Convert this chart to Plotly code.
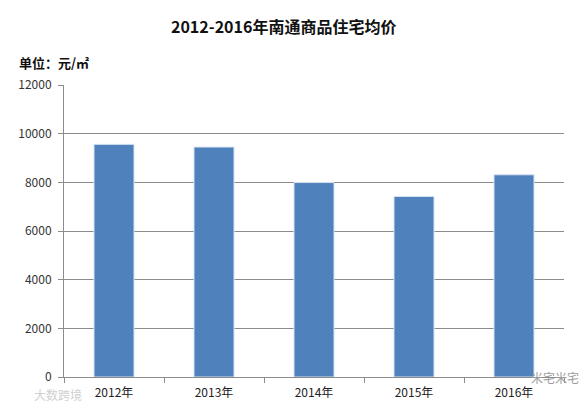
import plotly.graph_objects as go

years = ["2012年", "2013年", "2014年", "2015年", "2016年"]
prices = [9560, 9450, 7990, 7420, 8310]
y_ticks = [0, 2000, 4000, 6000, 8000, 10000, 12000]
y_tick_labels = ["0", "2000", "4000", "6000", "8000", "10000", "12000"]

FONT = "Noto Sans CJK SC"

fig = go.Figure()
fig.add_trace(go.Bar(
    x=years, y=prices,
    marker=dict(color="#4F81BD", line=dict(color="#d6e2f0", width=1)),
    width=0.4,
))

fig.update_layout(
    width=585, height=408,
    margin=dict(l=64, r=21, t=85, b=30.5),
    paper_bgcolor="white", plot_bgcolor="white",
    showlegend=False,
    font=dict(family=FONT, size=12, color="#333333"),
    title=dict(text="<b>2012-2016年南通商品住宅均价</b>",
               x=0.485, xanchor="center", y=1 - 27 / 408, yanchor="middle",
               font=dict(family=FONT, size=16, color="#111111")),
    xaxis=dict(type="category", showline=True, linecolor="#8c8c8c", linewidth=1,
               ticks="outside", tickson="boundaries", ticklen=5, tickcolor="#8c8c8c",
               showgrid=False, tickfont=dict(size=12, color="#222222"), automargin=False,
               ticklabelstandoff=5),
    yaxis=dict(range=[0, 12000], tickvals=y_ticks, ticktext=y_tick_labels,
               showline=True, linecolor="#8c8c8c",
               linewidth=1, ticks="outside", ticklen=5, tickcolor="#8c8c8c",
               showgrid=True, gridcolor="#8c8c8c", gridwidth=1, zeroline=False,
               tickfont=dict(size=12, color="#333333"), ticklabelstandoff=4,
               automargin=False),
    annotations=[
        dict(text="<b>单位：元/㎡</b>", xref="paper", yref="paper",
             x=-64 / 500, y=1 + (85 - 62.5) / 292.5, xanchor="left", yanchor="middle",
             xshift=17, showarrow=False, font=dict(family=FONT, size=13, color="#111111")),
        dict(text="大数跨境", xref="paper", yref="paper",
             x=-64 / 500, y=-(395 - 377.5) / 292.5, xanchor="left", yanchor="middle",
             xshift=32, showarrow=False, font=dict(family=FONT, size=12, color="#d0d0d0")),
        dict(text="米宅米宅", xref="paper", yref="paper",
             x=1, y=-(378 - 377.5) / 292.5, xanchor="left", yanchor="middle",
             xshift=-35, showarrow=False, font=dict(family=FONT, size=12, color="#9a9a9a")),
    ],
)

fig.write_html("out.html", config={"displayModeBar": False},
               post_script="document.body.style.margin='0';document.body.style.padding='0';")
